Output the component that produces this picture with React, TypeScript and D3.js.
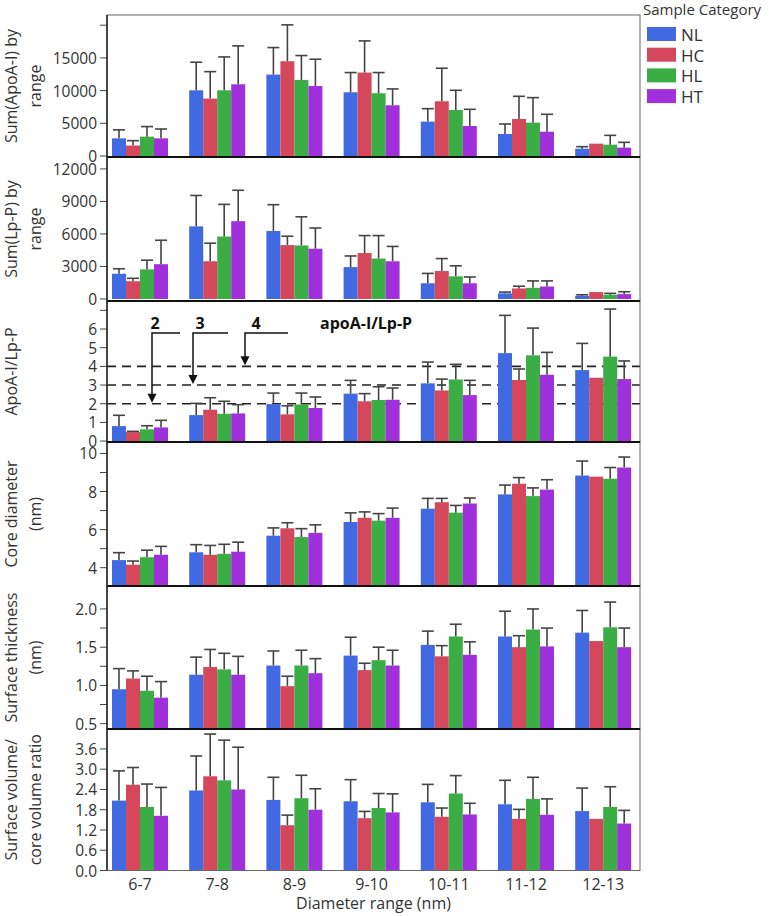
import * as d3 from "d3";

const categories = ["6-7", "7-8", "8-9", "9-10", "10-11", "11-12", "12-13"];
const series = ["NL", "HC", "HL", "HT"];
const colors = ["#4169e1", "#d5475b", "#3aad45", "#a030dc"];

// rows follow series order: NL, HC, HL, HT
const apoaMean = [
  [2700, 10050, 12450, 9750, 5260, 3370, 1120],
  [1600, 8780, 14490, 12760, 8370, 5660, 1890],
  [2960, 10050, 11630, 9590, 7040, 5100, 1730],
  [2700, 10970, 10710, 7760, 4590, 3720, 1280],
];
const apoaUpper = [
  [4000, 14340, 16580, 12760, 7240, 4900, 1430],
  [2350, 12900, 20050, 17600, 13420, 9130, null],
  [4500, 15150, 15360, 12760, 10050, 8930, 3160],
  [4130, 16840, 14800, 10260, 7140, 6380, 2090],
];
const lppMean = [
  [2330, 6700, 6270, 2940, 1450, 520, 300],
  [1640, 3480, 4970, 4240, 2580, 970, 640],
  [2730, 5760, 4940, 3730, 2090, 1030, 390],
  [3210, 7180, 4640, 3480, 1450, 1150, 450],
];
const lppUpper = [
  [2790, 9550, 8700, 3970, 2360, 640, 390],
  [1910, 5150, 5790, 5850, 3730, 1180, null],
  [3580, 8730, 7580, 5850, 3060, 1670, 520],
  [5420, 10030, 6550, 4850, 2030, 1670, 670],
];
const ratioMean = [
  [0.8, 1.39, 1.98, 2.54, 3.09, 4.71, 3.8],
  [0.48, 1.68, 1.43, 2.13, 2.71, 3.27, 3.39],
  [0.63, 1.46, 1.96, 2.2, 3.3, 4.59, 4.52],
  [0.73, 1.48, 1.77, 2.21, 2.46, 3.55, 3.32],
];
const ratioUpper = [
  [1.38, 2.02, 2.57, 3.25, 4.23, 6.73, 5.23],
  [0.52, 2.32, 1.89, 2.54, 3.32, 3.86, null],
  [0.82, 2.13, 2.57, 2.91, 4.11, 6.05, 7.07],
  [1.11, 1.95, 2.36, 2.84, 3.25, 4.75, 4.29],
];
const coreMean = [
  [4.4, 4.81, 5.68, 6.4, 7.1, 7.85, 8.84],
  [4.16, 4.68, 6.07, 6.62, 7.44, 8.41, 8.78],
  [4.55, 4.73, 5.61, 6.47, 6.89, 7.76, 8.67],
  [4.68, 4.84, 5.83, 6.62, 7.37, 8.1, 9.26],
];
const coreUpper = [
  [4.79, 5.21, 6.09, 6.88, 7.64, 8.34, 9.6],
  [4.35, 5.17, 6.36, 6.93, 7.64, 8.73, null],
  [4.92, 5.23, 6.05, 6.84, 7.27, 8.19, 9.26],
  [5.12, 5.34, 6.25, 7.13, 7.66, 8.62, 9.81],
];
const surfMean = [
  [0.95, 1.14, 1.26, 1.39, 1.53, 1.64, 1.69],
  [1.09, 1.24, 0.99, 1.2, 1.38, 1.5, 1.58],
  [0.93, 1.21, 1.26, 1.33, 1.64, 1.73, 1.76],
  [0.84, 1.14, 1.16, 1.26, 1.4, 1.51, 1.5],
];
const surfUpper = [
  [1.22, 1.37, 1.45, 1.63, 1.71, 1.97, 1.98],
  [1.19, 1.47, 1.12, 1.29, 1.52, 1.65, null],
  [1.12, 1.42, 1.46, 1.5, 1.8, 2.0, 2.09],
  [1.05, 1.38, 1.35, 1.46, 1.57, 1.75, 1.75],
];
const volMean = [
  [2.07, 2.37, 2.09, 2.05, 2.02, 1.96, 1.76],
  [2.54, 2.79, 1.34, 1.55, 1.59, 1.53, 1.53],
  [1.88, 2.67, 2.14, 1.85, 2.28, 2.12, 1.88],
  [1.62, 2.4, 1.8, 1.72, 1.66, 1.65, 1.39],
];
const volUpper = [
  [2.95, 3.39, 2.76, 2.69, 2.55, 2.67, 2.44],
  [3.05, 4.04, 1.64, 1.75, 1.85, 1.81, null],
  [2.56, 3.86, 2.82, 2.28, 2.81, 2.76, 2.48],
  [2.46, 3.65, 2.42, 2.27, 1.99, 2.12, 1.78],
];

const refLines = [2, 3, 4];

const FONT = "'Open Sans', 'DejaVu Sans', sans-serif";
const TXT = "#333";
const LEFT = 107;
const RIGHT = 640;

interface Panel {
  title: string[];
  mean: number[][];
  upper: (number | null)[][];
  domain: [number, number];
  top: number;
  bottom: number;
  ticks: number[];
  labelled: number[];
  fmt: (v: number) => string;
}

const panels: Panel[] = [
  {
    title: ["Sum(ApoA-I) by", "range"], mean: apoaMean, upper: apoaUpper,
    domain: [-150, 21560], top: 15, bottom: 157,
    ticks: [0, 5000, 10000, 15000, 20000], labelled: [0, 5000, 10000, 15000], fmt: d3.format("d"),
  },
  {
    title: ["Sum(Lp-P) by", "range"], mean: lppMean, upper: lppUpper,
    domain: [-185, 13100], top: 157, bottom: 301,
    ticks: [0, 3000, 6000, 9000, 12000], labelled: [0, 3000, 6000, 9000, 12000], fmt: d3.format("d"),
  },
  {
    title: ["ApoA-I/Lp-P"], mean: ratioMean, upper: ratioUpper,
    domain: [-0.05, 7.5], top: 301, bottom: 442,
    ticks: [0, 1, 2, 3, 4, 5, 6, 7], labelled: [0, 1, 2, 3, 4, 5, 6], fmt: d3.format("d"),
  },
  {
    title: ["Core diameter", "(nm)"], mean: coreMean, upper: coreUpper,
    domain: [3.04, 10.6], top: 442, bottom: 586,
    ticks: [4, 5, 6, 7, 8, 9, 10], labelled: [4, 6, 8, 10], fmt: d3.format("d"),
  },
  {
    title: ["Surface thickness", "(nm)"], mean: surfMean, upper: surfUpper,
    domain: [0.43, 2.3], top: 586, bottom: 729,
    ticks: [0.5, 0.75, 1, 1.25, 1.5, 1.75, 2], labelled: [0.5, 1, 1.5, 2], fmt: d3.format(".1f"),
  },
  {
    title: ["Surface volume/", "core volume ratio"], mean: volMean, upper: volUpper,
    domain: [0, 4.19], top: 729, bottom: 870.5,
    ticks: [0, 0.6, 1.2, 1.8, 2.4, 3.0, 3.6], labelled: [0, 0.6, 1.2, 1.8, 2.4, 3.0, 3.6], fmt: d3.format(".1f"),
  },
];

export default function App() {
  const x0 = d3.scaleBand().domain(categories).range([101.4, 641.8]);
  const x1 = d3.scaleBand().domain(series).range([0, 56]);
  const groupOffset = (x0.bandwidth() - 56) / 2;

  return (
    <svg width={777} height={916} style={{ position: "absolute", left: 0, top: 0, fontFamily: FONT }}>
      <rect width={777} height={916} fill="white" />
      {panels.map((p, pi) => {
        const y = d3.scaleLinear().domain(p.domain).range([p.bottom, p.top]);
        const base = y(Math.max(0, p.domain[0]));
        const mid = (p.top + p.bottom) / 2;
        return (
          <g key={pi}>
            {p.title.map((t, li) => (
              <text
                key={li}
                transform={`translate(${p.title.length === 1 ? 11 : 11 + li * 24},${mid}) rotate(-90)`}
                textAnchor="middle"
                dominantBaseline="central"
                fontSize={16}
                fill={TXT}
              >
                {t}
              </text>
            ))}
            {p.ticks.map((t) => (
              <g key={t}>
                <line x1={LEFT - 7} x2={LEFT} y1={y(t)} y2={y(t)} stroke="#444" strokeWidth={1} />
                {p.labelled.includes(t) && (
                  <text x={LEFT - 10} y={y(t)} textAnchor="end" dominantBaseline="central" fontSize={15.5} fill={TXT}>
                    {p.fmt(t)}
                  </text>
                )}
              </g>
            ))}
            {pi === 2 &&
              refLines.map((r) => (
                <line key={r} x1={LEFT} x2={RIGHT} y1={y(r)} y2={y(r)} stroke="#222" strokeWidth={1.6} strokeDasharray="9,6" />
              ))}
            {series.map((s, si) =>
              categories.map((c, ci) => {
                const bx = (x0(c) ?? 0) + groupOffset + (x1(s) ?? 0);
                const v = p.mean[si][ci];
                return (
                  <rect
                    key={s + c}
                    x={bx}
                    y={y(v)}
                    width={x1.bandwidth()}
                    height={base - y(v)}
                    fill={colors[si]}
                  />
                );
              })
            )}
            {series.map((s, si) =>
              categories.map((c, ci) => {
                const u = p.upper[si][ci];
                if (u == null) return null;
                const cx = (x0(c) ?? 0) + groupOffset + (x1(s) ?? 0) + x1.bandwidth() / 2;
                return (
                  <g key={"e" + s + c} stroke="#444" strokeWidth={1.6}>
                    <line x1={cx} x2={cx} y1={y(p.mean[si][ci])} y2={y(u)} />
                    <line x1={cx - 6} x2={cx + 6} y1={y(u)} y2={y(u)} />
                  </g>
                );
              })
            )}
            {pi === 2 && (
              <g>
                {[
                  { label: "2", lx: 155, ax: 152, hx: 180, v: 2 },
                  { label: "3", lx: 200, ax: 193, hx: 228, v: 3 },
                  { label: "4", lx: 256, ax: 245, hx: 288, v: 4 },
                ].map((a) => (
                  <g key={a.label}>
                    <text x={a.lx} y={323} textAnchor="middle" dominantBaseline="central" fontSize={16} fontWeight="bold" fill="#111">
                      {a.label}
                    </text>
                    <polyline points={`${a.hx},333 ${a.ax},333 ${a.ax},${y(a.v) - 8}`} fill="none" stroke="#111" strokeWidth={1.5} />
                    <path d={`M${a.ax - 4.5},${y(a.v) - 10} L${a.ax + 4.5},${y(a.v) - 10} L${a.ax},${y(a.v) - 1} Z`} fill="#111" />
                  </g>
                ))}
                <text x={320} y={323} dominantBaseline="central" fontSize={16} fontWeight="bold" fill="#111">
                  apoA-I/Lp-P
                </text>
              </g>
            )}
            <rect x={LEFT} y={p.top} width={RIGHT - LEFT} height={p.bottom - p.top} fill="none" stroke="#666" strokeWidth={1} />
          </g>
        );
      })}
      {panels.slice(1).map((p, i) => (
        <line key={i} x1={LEFT} x2={RIGHT} y1={p.top} y2={p.top} stroke="#111" strokeWidth={2} />
      ))}
      <line x1={LEFT} x2={LEFT} y1={15} y2={870.5} stroke="#222" strokeWidth={1.5} />
      {categories.map((c) => (
        <text key={c} x={(x0(c) ?? 0) + x0.bandwidth() / 2} y={884} textAnchor="middle" dominantBaseline="central" fontSize={16} fill={TXT}>
          {c}
        </text>
      ))}
      <text x={(LEFT + RIGHT) / 2} y={903} textAnchor="middle" dominantBaseline="central" fontSize={16} fill={TXT}>
        Diameter range (nm)
      </text>
      <text x={643} y={9} dominantBaseline="central" fontSize={15} fill={TXT}>
        Sample Category
      </text>
      {series.map((s, i) => (
        <g key={s} transform={`translate(647,${27 + i * 20.7})`}>
          <rect width={29} height={14} fill={colors[i]} />
          <text x={34} y={7.5} dominantBaseline="central" fontSize={17} fill={TXT}>
            {s}
          </text>
        </g>
      ))}
    </svg>
  );
}
